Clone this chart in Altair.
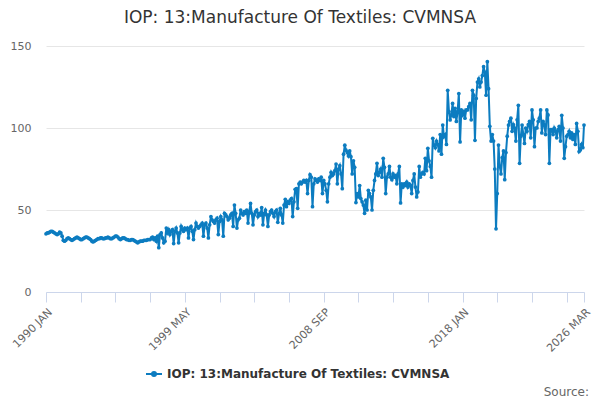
import altair as alt
import pandas as pd

TITLE = "IOP: 13:Manufacture Of Textiles: CVMNSA"
LINE_COLOR = "#0c7cc0"

# monthly values (Jan..Dec per year)
v1990 = [35.5, 36, 36, 36.5, 37, 37, 36.5, 36, 35.5, 35, 35.5, 36.5]
v1991 = [36, 34, 31.5, 31, 31.5, 32.5, 33, 32.5, 32, 31.5, 32, 32.5]
v1992 = [33, 33.5, 33, 32.5, 32, 32, 32.5, 33, 33.5, 33.5, 33, 32.5]
v1993 = [32, 31, 30.5, 31, 31.5, 32, 32.5, 32.5, 33, 33, 32.5, 32.5]
v1994 = [33, 33, 33.5, 33, 32.5, 32.5, 33, 33.5, 34, 34, 33.5, 32.5]
v1995 = [32, 32.5, 33, 33, 32.5, 32, 32, 31.5, 31.5, 32, 32, 31.5]
v1996 = [31, 30.5, 30, 30.5, 31, 31, 31, 31.5, 31.5, 31.5, 32, 32]
v1997 = [32, 33, 33.5, 32, 33, 31, 34, 27, 35, 36, 33, 30]
v1998 = [31, 39, 36, 38, 35, 37, 38, 29.5, 37, 39, 36, 30]
v1999 = [36, 40, 38, 37, 39, 38, 39, 33, 39, 40, 37, 32]
v2000 = [38, 42, 40, 39, 40, 41, 42, 34, 41, 42, 39, 33]
v2001 = [41, 46, 44, 43, 42, 44, 45, 35, 43, 46, 44, 34]
v2002 = [48, 47, 46, 44, 45, 47, 48, 40, 53, 48, 39, 44]
v2003 = [45, 50, 48, 47, 49, 48, 50, 42, 49, 54, 48, 41]
v2004 = [47, 49, 50, 46, 48, 47, 51.5, 41, 48, 50, 47, 40]
v2005 = [47, 49, 50, 48, 46, 49, 50, 42.5, 48, 51, 47, 42]
v2006 = [53, 56.5, 52, 55, 54, 56, 57, 46, 55, 62.6, 63, 51]
v2007 = [66, 67, 66, 67, 68, 67, 68, 60, 68, 71.5, 70, 52]
v2008 = [66, 69, 68, 67, 69, 68, 70, 60, 68, 66, 62, 55]
v2009 = [66, 70, 73, 71, 72, 74, 78, 66, 75, 77, 72, 63]
v2010 = [84, 89.5, 86.5, 85, 83, 86, 82.5, 72, 80, 76, 54.5, 60]
v2011 = [58, 64.9, 57, 55, 53, 48, 56, 50, 62, 60, 58, 50]
v2012 = [62, 68, 72, 78.5, 71, 73, 75, 70, 81.5, 76, 60, 70]
v2013 = [72, 76.6, 70, 68.5, 72, 70, 71, 66, 72, 76.6, 54.3, 66]
v2014 = [64, 66, 65, 67, 64, 66, 65, 60, 68, 72, 64, 58]
v2015 = [61, 76.6, 70, 72, 73, 72, 81.5, 74, 87.6, 80, 76.6, 70]
v2016 = [93.7, 89.6, 88, 92, 90, 86, 96, 84, 101.8, 94.7, 96, 90]
v2017 = [123, 110, 104.9, 108, 115, 107, 112, 104, 110, 121, 91.5, 111]
v2018 = [108, 110, 106, 111, 111, 113, 115, 105, 123, 120, 92.5, 118]
v2019 = [128, 130, 125, 128, 132, 137.4, 134, 120, 140.4, 124, 101, 92]
v2020 = [96, 92, 75, 38.5, 60, 89.6, 76.6, 72, 82, 86, 68.5, 85]
v2021 = [95, 101.8, 104, 106, 98, 102, 100, 92, 105, 113.8, 78.5, 95]
v2022 = [101.8, 96, 90.6, 100, 98, 102, 104, 94, 111, 105, 88.6, 100]
v2023 = [100, 104, 106, 111, 97, 104, 102, 96, 111, 108, 78.5, 99]
v2024 = [99, 96, 100, 98, 94, 99, 101, 92, 107.7, 100, 81.5, 88.6]
v2025 = [95, 96, 98, 94, 97, 93, 96, 90, 102.8, 98, 85.6, 86.6]
v2026 = [90, 88, 101.8]

values = (
    v1990 + v1991 + v1992 + v1993 + v1994 + v1995 + v1996 + v1997 + v1998
    + v1999 + v2000 + v2001 + v2002 + v2003 + v2004 + v2005 + v2006 + v2007
    + v2008 + v2009 + v2010 + v2011 + v2012 + v2013 + v2014 + v2015 + v2016
    + v2017 + v2018 + v2019 + v2020 + v2021 + v2022 + v2023 + v2024 + v2025
    + v2026
)
months = pd.date_range("1990-01-01", periods=len(values), freq="MS")

df = pd.DataFrame({"date": months.strftime("%Y-%m-%d"), "value": values, "series": TITLE})


def ms(ts):
    return int(pd.Timestamp(ts).value // 1_000_000)


# axis ticks every 28 months, plus the last month
tick_dates = list(pd.date_range("1990-01-01", "2026-03-01", freq="28MS")) + [pd.Timestamp("2026-03-01")]
tick_values = [ms(t) for t in tick_dates]
label_months = ["1990-01", "1999-05", "2008-09", "2018-01", "2026-03"]
label_expr = (
    "indexof(" + str(label_months) + ", utcFormat(datum.value, '%Y-%m')) >= 0"
    " ? upper(utcFormat(datum.value, '%Y %b')) : ''"
)

FONT = "DejaVu Sans"

line = (
    alt.Chart(df)
    .mark_line(strokeWidth=2, point=alt.OverlayMarkDef(size=14, filled=True))
    .encode(
        x=alt.X(
            "date:T",
            title=None,
            scale=alt.Scale(type="utc", domain=[ms("1990-01-01"), ms("2026-03-01")], nice=False),
            axis=alt.Axis(
                values=tick_values,
                labelExpr=label_expr,
                labelAngle=-45,
                labelFontSize=11,
                labelColor="#666666",
                labelFont=FONT,
                labelOverlap=False,
                labelPadding=4,
                tickColor="#ccd6eb",
                tickSize=10,
                domainColor="#ccd6eb",
                grid=False,
            ),
        ),
        y=alt.Y(
            "value:Q",
            title=None,
            scale=alt.Scale(domain=[0, 150]),
            axis=alt.Axis(
                values=[0, 50, 100, 150],
                labelFontSize=11,
                labelColor="#666666",
                labelFont=FONT,
                labelPadding=15,
                ticks=False,
                domain=False,
                gridColor="#e6e6e6",
            ),
        ),
        color=alt.Color(
            "series:N",
            scale=alt.Scale(range=[LINE_COLOR]),
            legend=alt.Legend(
                title=None,
                orient="none",
                legendX=99,
                legendY=319,
                symbolType="M-1,0H1M-0.25,0A0.25,0.25 0 1,1 0.25,0A0.25,0.25 0 1,1 -0.25,0Z",
                symbolSize=256,
                symbolStrokeWidth=2,
                symbolFillColor=LINE_COLOR,
                labelFont=FONT,
                labelFontSize=12,
                labelFontWeight="bold",
                labelColor="#333333",
                labelOffset=4,
                labelLimit=0,
            ),
        ),
    )
)

source = (
    alt.Chart(pd.DataFrame({"t": ["Source:"]}))
    .mark_text(align="right", baseline="middle", fontSize=12, color="#666666", font=FONT)
    .encode(text="t:N", x=alt.value(543), y=alt.value(346))
)

chart = (
    (line + source)
    .properties(
        width=538,
        height=246,
        padding={"left": 38, "top": 38, "right": 8, "bottom": 110},
        autosize=alt.AutoSizeParams(type="none"),
        title=alt.TitleParams(
            TITLE,
            font=FONT,
            fontSize=17,
            fontWeight="normal",
            color="#333333",
            anchor="middle",
            dx=-15,
            offset=13,
        ),
    )
    .configure_view(stroke=None)
)

chart.save("out.html", embed_options={"renderer": "svg", "actions": False})
